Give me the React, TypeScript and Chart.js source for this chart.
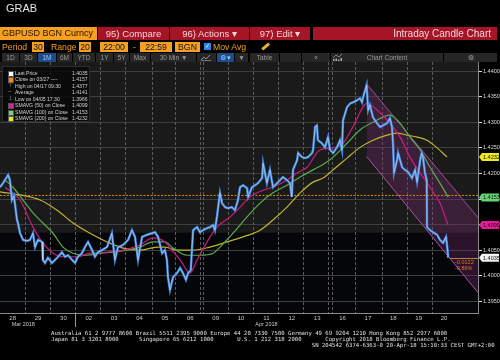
import React, { useEffect, useRef } from 'react';
import { Chart, registerables } from 'chart.js';

Chart.register(...registerables);

// ---------- DATA ----------
const dayLabels = ['28', '29', '30', '02', '03', '04', '05', '06', '09', '10', '11', '12', '13', '16', '17', '18', '19', '20'];
const monthLabels = [
  { at: 0.5, text: 'Mar 2018', align: 'left' },
  { at: 10.5, text: 'Apr 2018', align: 'center' },
];
const dayBoundaries = [0.99, 1.97, 2.96, 3.94, 4.93, 5.99, 6.9, 7.88, 8.0, 8.99, 9.97, 10.96, 11.94, 12.93, 13.09, 13.99, 15.06, 16.04, 17.03];
const monthBoundary = 2.96;
const yTicks = [1.395, 1.4, 1.405, 1.41, 1.415, 1.42, 1.425, 1.43, 1.435, 1.44];
const xMin = 0;
const xMax = 18.84;
const yMin = 1.3927;
const yMax = 1.4418;
const shadeSplit = 1.4084;

// 30-min closes (time in trading-day units)
const priceTime = [
  0, 0.12, 0.32, 0.39, 0.47, 0.55, 0.67, 0.71, 0.79, 0.91,
  1.06, 1.18, 1.3, 1.38, 1.5, 1.66, 1.69, 1.77, 1.89, 2.05,
  2.17, 2.29, 2.44, 2.56, 2.68, 2.84, 2.96, 3.07, 3.23, 3.35,
  3.47, 3.63, 3.74, 3.86, 4.02, 4.22, 4.41, 4.53, 4.65, 4.85,
  5.05, 5.2, 5.32, 5.44, 5.6, 5.79, 5.99, 6.11, 6.23, 6.39,
  6.5, 6.58, 6.62, 6.7, 6.82, 6.98, 7.1, 7.21, 7.33, 7.41,
  7.52, 7.61, 7.77, 7.88, 8.0, 8.16, 8.28, 8.4, 8.47, 8.55,
  8.67, 8.75, 8.87, 8.99, 9.14, 9.26, 9.38, 9.46, 9.58, 9.74,
  9.78, 9.93, 10.05, 10.17, 10.33, 10.37, 10.52, 10.64, 10.76, 10.92,
  11.04, 11.15, 11.31, 11.43, 11.5, 11.55, 11.71, 11.75, 11.9, 12.02,
  12.14, 12.3, 12.34, 12.42, 12.49, 12.53, 12.69, 12.81, 12.93, 13.01,
  13.13, 13.28, 13.4, 13.48, 13.52, 13.68, 13.8, 13.91, 14.07, 14.19,
  14.27, 14.31, 14.45, 14.51, 14.58, 14.7, 14.86, 14.98, 15.1, 15.25,
  15.37, 15.45, 15.49, 15.53, 15.65, 15.69, 15.85, 15.96, 16.08, 16.24,
  16.36, 16.44, 16.56, 16.62, 16.67, 16.75, 16.82, 16.83, 16.95, 17.07,
  17.23, 17.34, 17.46, 17.58, 17.65, 17.66,
];
const priceClose = [
  1.4173, 1.4181, 1.4197, 1.4187, 1.4148, 1.4156, 1.4109, 1.4103, 1.4083, 1.407,
  1.4068, 1.407, 1.4083, 1.4056, 1.407, 1.4066, 1.4031, 1.4025, 1.4035, 1.4025,
  1.4031, 1.4037, 1.4046, 1.4037, 1.404, 1.4031, 1.4025, 1.4037, 1.4044, 1.4056,
  1.4066, 1.405, 1.4037, 1.4046, 1.405, 1.4056, 1.4083, 1.4031, 1.4056, 1.406,
  1.407, 1.4089, 1.4076, 1.4031, 1.4076, 1.408, 1.4083, 1.4085, 1.4076, 1.4044,
  1.405, 1.4031, 1.3997, 1.3972, 1.3997, 1.4005, 1.4015, 1.4005, 1.3992, 1.4005,
  1.4011, 1.4089, 1.4095, 1.4085, 1.4089, 1.4093, 1.4095, 1.4099, 1.4089, 1.4115,
  1.4162, 1.4142, 1.4134, 1.4132, 1.4134, 1.4128, 1.4148, 1.4173, 1.4177, 1.4171,
  1.4154, 1.4173, 1.4177, 1.4181, 1.4191, 1.422, 1.4181, 1.4207, 1.4173, 1.4181,
  1.4187, 1.4193, 1.4187, 1.4181, 1.4154, 1.4207, 1.4226, 1.424, 1.4232, 1.423,
  1.4232, 1.424, 1.4246, 1.4291, 1.4294, 1.4265, 1.4259, 1.4251, 1.4271, 1.4246,
  1.424, 1.4251, 1.4265, 1.4246, 1.4304, 1.433, 1.4337, 1.4339, 1.4343, 1.4347,
  1.4339, 1.4349, 1.4373, 1.4324, 1.4334, 1.431, 1.4298, 1.4291, 1.4294, 1.4298,
  1.4308, 1.4291, 1.4259, 1.4201, 1.4226, 1.424, 1.4212, 1.4207, 1.4203, 1.4191,
  1.4207, 1.4183, 1.4226, 1.424, 1.4232, 1.4201, 1.4187, 1.4095, 1.4089, 1.4085,
  1.408, 1.407, 1.4064, 1.4076, 1.4046, 1.4035,
];

const sma50Time = [0.2, 0.79, 1.3, 1.69, 2.09, 2.48, 3.04, 3.55, 4.22, 4.85, 5.52, 6.03, 6.5, 6.7, 7.1, 7.49, 7.77, 8.16, 8.55, 9.07, 9.46, 9.85, 10.37, 10.76, 11.31, 11.71, 12.1, 12.61, 13.13, 13.52, 13.91, 14.47, 14.86, 15.37, 15.77, 16.16, 16.56, 16.95, 17.34, 17.66];
const sma50 = [1.4173, 1.4148, 1.4095, 1.4064, 1.4044, 1.4037, 1.4037, 1.4044, 1.4046, 1.405, 1.406, 1.4074, 1.4066, 1.4054, 1.4031, 1.4005, 1.4031, 1.4066, 1.4095, 1.4115, 1.4134, 1.4154, 1.4167, 1.4173, 1.4187, 1.4201, 1.4212, 1.4246, 1.425, 1.4259, 1.4291, 1.4337, 1.4324, 1.4298, 1.4271, 1.4232, 1.4201, 1.4173, 1.4142, 1.4099];

const sma100Time = [0.2, 0.51, 0.91, 1.3, 1.69, 2.09, 2.48, 2.88, 3.43, 3.94, 4.45, 5.01, 5.52, 6.03, 6.5, 6.82, 7.37, 7.88, 8.4, 8.67, 9.18, 9.74, 10.25, 10.76, 11.31, 11.83, 12.34, 12.81, 13.13, 13.68, 14.19, 14.7, 15.37, 15.77, 16.16, 16.56, 16.95, 17.34, 17.66];
const sma100 = [1.4187, 1.4173, 1.4148, 1.4123, 1.4103, 1.4083, 1.4056, 1.4044, 1.404, 1.4044, 1.4046, 1.405, 1.4056, 1.4066, 1.4066, 1.4054, 1.404, 1.404, 1.4044, 1.4056, 1.4083, 1.4115, 1.4142, 1.4162, 1.4177, 1.4193, 1.4207, 1.422, 1.4232, 1.4259, 1.4285, 1.43, 1.4314, 1.4298, 1.4271, 1.4246, 1.4212, 1.4181, 1.4154];

const sma200Time = [0, 0.79, 1.58, 2.25, 2.88, 3.55, 4.22, 4.85, 5.52, 6.19, 6.5, 6.98, 7.61, 8.28, 8.95, 9.58, 10.25, 10.76, 11.31, 11.83, 12.34, 12.73, 13.13, 13.68, 14.19, 14.7, 15.25, 15.65, 16.04, 16.44, 16.83, 17.23, 17.62];
const sma200 = [1.4164, 1.4158, 1.4148, 1.4128, 1.4103, 1.4083, 1.4066, 1.4054, 1.405, 1.4056, 1.4056, 1.405, 1.405, 1.4056, 1.4066, 1.4076, 1.4089, 1.4109, 1.4134, 1.4162, 1.4183, 1.4191, 1.4207, 1.423, 1.4251, 1.4265, 1.4275, 1.4279, 1.4275, 1.4271, 1.4265, 1.425, 1.4232];

const channelTime = [14.45, 18.84];
const channelUpper = [1.4375, 1.41135];
const channelLower = [1.4233, 1.3967];

const close0327 = 1.4157;
const changeLabels = ['-0.0122', '-0.86%'];

const axisMarkers = [
  { value: 1.4232, bg: '#eeec1c', fg: '#111' },
  { value: 1.4153, bg: '#62d274', fg: '#111' },
  { value: 1.4099, bg: '#e51a98', fg: '#111' },
  { value: 1.4035, bg: '#f2f2f2', fg: '#111' },
];

const legendRows = [
  { icon: 'sq', color: '#ffffff', label: 'Last Price', value: '1.4035' },
  { icon: 'sq', color: '#f08a1c', label: 'Close on 03/27  ----', value: '1.4157' },
  { icon: '⊤', color: '#999', label: 'High on 04/17 09:30', value: '1.4377' },
  { icon: '–', color: '#999', label: 'Average', value: '1.4141' },
  { icon: '⊥', color: '#999', label: 'Low on 04/05 17:30', value: '1.3966' },
  { icon: 'sq', color: '#e020a0', label: 'SMAVG (50) on Close', value: '1.4099' },
  { icon: 'sq', color: '#74d67c', label: 'SMAVG (100) on Close', value: '1.4153' },
  { icon: 'sq', color: '#ecec20', label: 'SMAVG (200) on Close', value: '1.4232' },
];

const toolbarButtons = [
  { label: '1D', left: 2, width: 17 },
  { label: '3D', left: 20, width: 17 },
  { label: '1M', left: 38, width: 18, sel: true },
  { label: '6M', left: 57, width: 15 },
  { label: 'YTD', left: 73, width: 22 },
  { label: '1Y', left: 96, width: 17 },
  { label: '5Y', left: 114, width: 15 },
  { label: 'Max', left: 130, width: 20 },
  { label: '30 Min ▼', left: 151, width: 45 },
  { label: '', left: 197, width: 19, icon: 'chart' },
  { label: '⚙ ▾', left: 217, width: 17, sel: true },
  { label: '▼', left: 235, width: 13 },
  { label: 'Table', left: 250, width: 29 },
  { label: '', left: 280, width: 21 },
  { label: '«', left: 302, width: 28 },
  { label: 'Chart Content', left: 331, width: 112, icon: 'content' },
  { label: '⚙', left: 444, width: 53 },
];

const footerLines = [
  'Australia 61 2 9777 8600 Brazil 5511 2395 9000 Europe 44 20 7330 7500 Germany 49 69 9204 1210 Hong Kong 852 2977 6000',
  'Japan 81 3 3201 8900      Singapore 65 6212 1000       U.S. 1 212 318 2000       Copyright 2018 Bloomberg Finance L.P.',
  '                                                                             SN 204542 6374-6363-0 20-Apr-18 15:10:33 CEST GMT+2:00',
];

const UI_FONT = '"Liberation Sans", Arial, sans-serif';

const pts = (T: number[], V: number[]) => T.map((t, i) => ({ x: t, y: V[i] }));

const bbgPlugin = {
  id: 'bbg',
  beforeDraw(chart: any) {
    const { ctx, chartArea, scales } = chart;
    const { left, right, top, bottom } = chartArea;
    ctx.save();
    ctx.fillStyle = '#05060a';
    ctx.fillRect(left, top, right - left, bottom - top);
    const ys = scales.y.getPixelForValue(shadeSplit);
    ctx.fillStyle = '#1a1a1a';
    ctx.fillRect(left, top, right - left, ys - top);
    ctx.restore();
  },
  beforeDatasetsDraw(chart: any) {
    const { ctx, chartArea, scales } = chart;
    ctx.save();
    ctx.strokeStyle = '#5c5c5c';
    ctx.lineWidth = 1;
    ctx.setLineDash([3, 2]);
    dayBoundaries.forEach((t) => {
      const x = Math.round(scales.x.getPixelForValue(t)) + 0.5;
      ctx.beginPath();
      ctx.moveTo(x, chartArea.top);
      ctx.lineTo(x, chartArea.bottom);
      ctx.stroke();
    });
    ctx.restore();
  },
  afterDraw(chart: any) {
    const { ctx, chartArea, scales } = chart;
    const xs = scales.x;
    const ys = scales.y;
    ctx.save();
    // month separator below axis
    const mx = Math.round(xs.getPixelForValue(monthBoundary)) + 0.5;
    ctx.strokeStyle = '#9a9a9a';
    ctx.lineWidth = 1;
    ctx.beginPath();
    ctx.moveTo(mx, chartArea.bottom);
    ctx.lineTo(mx, chartArea.bottom + 14);
    ctx.stroke();
    // month labels
    ctx.fillStyle = '#c8c8c8';
    ctx.font = '5.5px ' + UI_FONT;
    ctx.textBaseline = 'middle';
    monthLabels.forEach((m) => {
      const x = xs.getPixelForValue(m.at);
      ctx.textAlign = m.align as CanvasTextAlign;
      ctx.fillText(m.text, m.align === 'left' ? x - 1 : x, chartArea.bottom + 11.5);
    });
    // last price line and change labels
    const lastT = priceTime[priceTime.length - 1];
    const lastV = priceClose[priceClose.length - 1];
    const lx = xs.getPixelForValue(lastT);
    const ly = Math.round(ys.getPixelForValue(lastV)) + 0.5;
    ctx.strokeStyle = 'rgba(230,150,80,0.8)';
    ctx.beginPath();
    ctx.moveTo(lx + 2, ly);
    ctx.lineTo(chartArea.right, ly);
    ctx.stroke();
    ctx.fillStyle = '#e4772a';
    ctx.textAlign = 'left';
    ctx.font = '5.5px ' + UI_FONT;
    ctx.fillText(changeLabels[0], lx + 7, ly + 3.5);
    ctx.fillText(changeLabels[1], lx + 7, ly + 10);
    // axis markers
    axisMarkers.forEach((m) => {
      const y = ys.getPixelForValue(m.value);
      const x0 = chartArea.right + 1;
      ctx.fillStyle = m.bg;
      ctx.beginPath();
      ctx.moveTo(x0, y);
      ctx.lineTo(x0 + 3, y - 4);
      ctx.lineTo(x0 + 20, y - 4);
      ctx.lineTo(x0 + 20, y + 4);
      ctx.lineTo(x0 + 3, y + 4);
      ctx.closePath();
      ctx.fill();
      ctx.fillStyle = m.fg;
      ctx.font = '5.5px ' + UI_FONT;
      ctx.textAlign = 'left';
      ctx.textBaseline = 'middle';
      ctx.fillText(m.value.toFixed(4), x0 + 4, y + 0.5);
    });
    ctx.restore();
  },
};

function LegendIcon({ row }: { row: any }) {
  if (row.icon === 'sq') {
    return (
      <span style={{ position: 'absolute', left: 5, top: 1, width: 4, height: 4, background: row.color, border: '0.5px solid #555' }} />
    );
  }
  return (
    <span style={{ position: 'absolute', left: 5, top: -1, color: row.color, fontSize: 6 }}>{row.icon}</span>
  );
}

function ToolIcon({ kind }: { kind: string }) {
  if (kind === 'chart') {
    return (
      <svg width="10" height="7" viewBox="0 0 10 7" style={{ position: 'absolute', left: 4, top: 1 }}>
        <polyline points="0,6 3,3 5,5 9,1" fill="none" stroke="#aaa" strokeWidth="0.8" />
        <line x1="0" y1="6.5" x2="10" y2="6.5" stroke="#aaa" strokeWidth="0.6" />
      </svg>
    );
  }
  if (kind === 'content') {
    return (
      <svg width="9" height="7" viewBox="0 0 9 7" style={{ position: 'absolute', left: 2, top: 1 }}>
        <polyline points="0,4 3,1 6,3 9,0" fill="none" stroke="#aaa" strokeWidth="0.7" />
        <rect x="0" y="5" width="1.5" height="2" fill="#aaa" />
        <rect x="2.5" y="4.5" width="1.5" height="2.5" fill="#aaa" />
        <rect x="5" y="5.5" width="1.5" height="1.5" fill="#aaa" />
        <rect x="7.5" y="4" width="1.5" height="3" fill="#aaa" />
      </svg>
    );
  }
  return null;
}

export default function App() {
  const ref = useRef<HTMLCanvasElement>(null);

  useEffect(() => {
    const canvas = ref.current;
    if (!canvas) return;
    const chart = new Chart(canvas, {
      type: 'line',
      data: {
        datasets: [
          {
            label: 'Channel upper',
            data: pts(channelTime, channelUpper),
            borderColor: '#b04fa8',
            borderWidth: 1,
            pointRadius: 0,
            fill: false,
            order: 10,
          },
          {
            label: 'Channel lower',
            data: pts(channelTime, channelLower),
            borderColor: '#b04fa8',
            borderWidth: 1,
            pointRadius: 0,
            fill: '-1',
            backgroundColor: 'rgba(125,45,115,0.33)',
            order: 9,
          },
          {
            label: 'Close on 03/27',
            data: pts([xMin, xMax], [close0327, close0327]),
            borderColor: '#e0881c',
            borderWidth: 1,
            borderDash: [2, 1.5],
            pointRadius: 0,
            order: 8,
          },
          {
            label: 'SMAVG (200)',
            data: pts(sma200Time, sma200),
            borderColor: '#bfb52c',
            borderWidth: 1.2,
            pointRadius: 0,
            cubicInterpolationMode: 'monotone',
            order: 5,
          },
          {
            label: 'SMAVG (100)',
            data: pts(sma100Time, sma100),
            borderColor: '#5aaa4e',
            borderWidth: 1.2,
            pointRadius: 0,
            cubicInterpolationMode: 'monotone',
            order: 4,
          },
          {
            label: 'SMAVG (50)',
            data: pts(sma50Time, sma50),
            borderColor: '#cc1a84',
            borderWidth: 1.2,
            pointRadius: 0,
            cubicInterpolationMode: 'monotone',
            order: 3,
          },
          {
            label: 'Last Price',
            data: pts(priceTime, priceClose),
            borderColor: '#3f86dc',
            borderWidth: 2.4,
            pointRadius: 0,
            tension: 0,
            order: 2,
          },
          {
            label: 'Last Price (body)',
            data: pts(priceTime, priceClose),
            borderColor: 'rgba(235,242,255,0.7)',
            borderWidth: 0.7,
            pointRadius: 0,
            tension: 0,
            order: 1,
          },
        ],
      },
      options: {
        responsive: false,
        animation: false,
        devicePixelRatio: 1,
        events: [],
        layout: { padding: { top: 62, bottom: 27, left: 0, right: 0 } },
        plugins: { legend: { display: false }, tooltip: { enabled: false } },
        scales: {
          x: {
            type: 'linear',
            min: xMin,
            max: xMax,
            afterBuildTicks: (s: any) => {
              s.ticks = dayLabels.map((_, i) => ({ value: i + 0.5 }));
            },
            afterFit: (s: any) => {
              s.height = 20;
            },
            grid: { display: false, drawTicks: false, tickLength: 0 },
            border: { display: true, color: '#8a8a8a' },
            ticks: {
              autoSkip: false,
              maxRotation: 0,
              color: '#c8c8c8',
              padding: 2,
              font: { size: 6, family: UI_FONT },
              callback: (_v: any, i: number) => dayLabels[i],
            },
          },
          y: {
            position: 'right',
            min: yMin,
            max: yMax,
            afterBuildTicks: (s: any) => {
              s.ticks = yTicks.map((v) => ({ value: v }));
            },
            afterFit: (s: any) => {
              s.width = 22;
            },
            grid: { color: '#3f3f3f', lineWidth: 1, drawTicks: true, tickLength: 4, tickColor: '#dddddd' },
            border: { display: true, color: '#8a8a8a' },
            ticks: {
              color: '#dddddd',
              padding: 1,
              font: { size: 5.5, family: UI_FONT },
              callback: (v: any) => Number(v).toFixed(4),
            },
          },
        },
      },
      plugins: [bbgPlugin],
    } as any);
    return () => chart.destroy();
  }, []);

  const box = (left: number, width: number, text: string) => (
    <div
      key={'b' + left}
      style={{
        position: 'absolute', left, top: 42, width, height: 10, background: '#f5a020', color: '#111',
        fontSize: 8.7, lineHeight: '10px', textAlign: 'center',
      }}
    >
      {text}
    </div>
  );
  const orangeText = (left: number, text: string) => (
    <div key={'o' + left} style={{ position: 'absolute', left, top: 42, color: '#f5a020', fontSize: 8.7, lineHeight: '10px' }}>
      {text}
    </div>
  );

  return (
    <div
      style={{
        position: 'fixed', left: 0, top: 0, width: 500, height: 360, background: '#000', overflow: 'hidden',
        fontFamily: UI_FONT,
      }}
    >
      <canvas ref={ref} width={500} height={360} style={{ position: 'absolute', left: 0, top: 0, width: 500, height: 360 }} />

      {/* title */}
      <div style={{ position: 'absolute', left: 6, top: 2, color: '#e6e6e6', fontSize: 11, lineHeight: '12px' }}>GRAB</div>

      {/* row 1 */}
      <div style={{ position: 'absolute', left: 0, top: 27, width: 97, height: 13, background: '#f5a020', color: '#2a1000', fontSize: 9, lineHeight: '13px', paddingLeft: 2, boxSizing: 'border-box', whiteSpace: 'nowrap' }}>
        GBPUSD BGN Curncy
      </div>
      <div style={{ position: 'absolute', left: 98, top: 27, width: 71, height: 13, background: '#a51427', color: '#f3d6d8', fontSize: 9.5, lineHeight: '13px', textAlign: 'center', whiteSpace: 'nowrap' }}>
        95) Compare
      </div>
      <div style={{ position: 'absolute', left: 170, top: 27, width: 79, height: 13, background: '#a51427', color: '#f3d6d8', fontSize: 9.5, lineHeight: '13px', textAlign: 'center', whiteSpace: 'nowrap' }}>
        96) Actions ▾
      </div>
      <div style={{ position: 'absolute', left: 250, top: 27, width: 60, height: 13, background: '#a51427', color: '#f3d6d8', fontSize: 9.5, lineHeight: '13px', textAlign: 'center', whiteSpace: 'nowrap' }}>
        97) Edit ▾
      </div>
      <div style={{ position: 'absolute', left: 313, top: 27, width: 184, height: 13, background: '#a51427', color: '#f3d6d8', fontSize: 10, lineHeight: '13px', textAlign: 'right', paddingRight: 6, boxSizing: 'border-box', whiteSpace: 'nowrap' }}>
        Intraday Candle Chart
      </div>

      {/* row 2 */}
      {orangeText(2, 'Period')}
      {box(32, 12, '30')}
      {orangeText(51, 'Range')}
      {box(79, 12, '20')}
      {box(100, 28, '22:00')}
      {orangeText(133, '-')}
      {box(140, 32, '22:59')}
      {box(175, 25, 'BGN')}
      <div style={{ position: 'absolute', left: 204, top: 43, width: 7, height: 7, background: '#2f86e0', color: '#fff', fontSize: 6, lineHeight: '7px', textAlign: 'center' }}>✓</div>
      {orangeText(213, 'Mov Avg')}
      <div style={{ position: 'absolute', left: 261, top: 45, width: 9, height: 2.5, background: '#e8b030', transform: 'rotate(-40deg)' }} />

      {/* row 3 */}
      {toolbarButtons.map((b) => (
        <div
          key={'t' + b.left}
          style={{
            position: 'absolute', left: b.left, top: 52.5, width: b.width, height: 9,
            background: b.sel ? '#1d4c86' : '#262626', color: b.sel ? '#9cc8ff' : '#9a9a9a',
            fontSize: 6.5, lineHeight: '9px', textAlign: 'center', whiteSpace: 'nowrap',
          }}
        >
          {b.icon ? <ToolIcon kind={b.icon} /> : null}
          {b.label}
        </div>
      ))}

      {/* legend */}
      <div style={{ position: 'absolute', left: 2, top: 66, width: 88, height: 56, background: 'rgba(8,8,8,0.85)', border: '1px solid #2c2c2c', boxSizing: 'border-box' }}>
        {legendRows.map((r, i) => (
          <div key={r.label} style={{ position: 'absolute', left: 0, top: 2.5 + i * 6.55, width: 88, height: 6, fontSize: 5.1, lineHeight: '6px', color: '#d2d2d2', whiteSpace: 'nowrap' }}>
            <LegendIcon row={r} />
            <span style={{ position: 'absolute', left: 12 }}>{r.label}</span>
            <span style={{ position: 'absolute', left: 69 }}>{r.value}</span>
          </div>
        ))}
      </div>

      {/* footer */}
      <div style={{ position: 'absolute', left: 51, top: 330, fontFamily: '"DejaVu Sans Mono", monospace', fontSize: 5.63, lineHeight: '6px', color: '#e0e0e0', whiteSpace: 'pre' }}>
        {footerLines.map((l, i) => (
          <div key={i}>{l}</div>
        ))}
      </div>
    </div>
  );
}
